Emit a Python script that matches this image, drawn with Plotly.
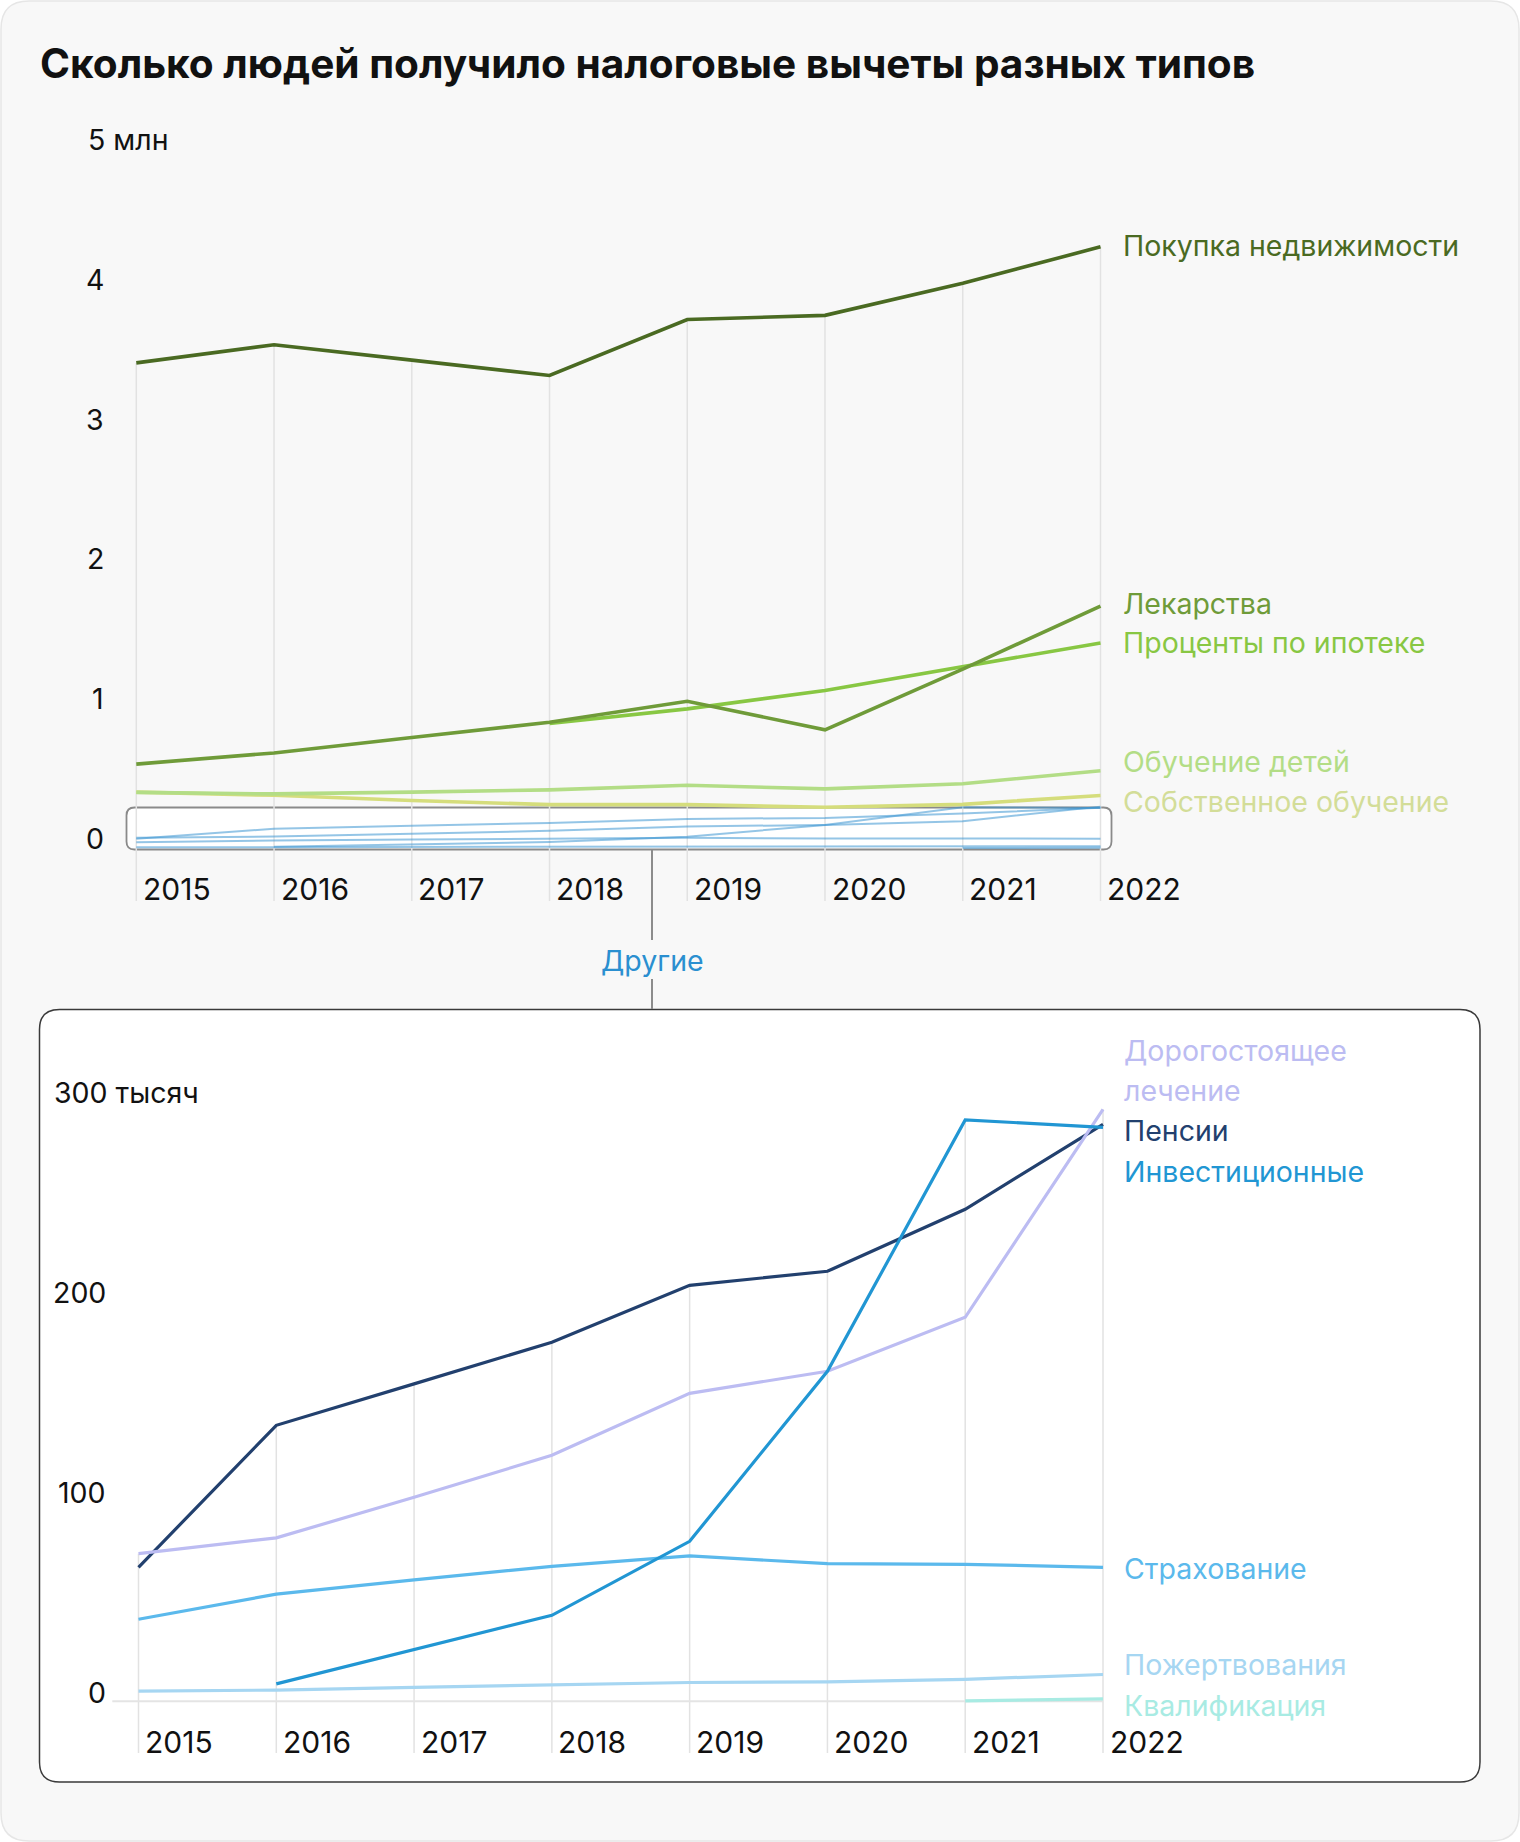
import plotly.graph_objects as go

W, H = 1520, 1842

# ---------------- data ----------------
years = [2015, 2016, 2017, 2018, 2019, 2020, 2021, 2022]
year_labels = ["2015", "2016", "2017", "2018", "2019", "2020", "2021", "2022"]

# Top chart, million people
real_estate = [3.47, 3.60, 3.49, 3.38, 3.78, 3.81, 4.04, 4.30]
medicines = [0.60, 0.68, 0.79, 0.90, 1.05, 0.845, 1.28, 1.73]
mortgage_interest = [None, None, None, 0.89, 0.995, 1.127, 1.295, 1.467]
children_education = [0.398, 0.387, 0.40, 0.416, 0.449, 0.423, 0.46, 0.552]
own_education = [0.40, 0.377, 0.34, 0.31, 0.31, 0.291, 0.312, 0.376]

# Bottom chart ("Другие"), thousand people
expensive_treatment = [73.8, 81.7, 102, 123, 154, 165, 192, 296]
pensions = [67, 138, 158.7, 179.5, 208, 215, 246, 288.5]
investment = [None, 8.7, 26, 43, 80, 165, 290.7, 287]
insurance = [41, 53.6, 60.7, 67.5, 72.7, 68.8, 68.5, 67]
donations = [5.1, 5.6, 7.0, 8.3, 9.4, 9.7, 11.0, 13.4]
qualification = [None, None, None, None, None, None, 0.2, 1.2]

top_ticks = [0, 1, 2, 3, 4, 5]
top_tick_labels = ["0", "1", "2", "3", "4", "5 млн"]
bottom_ticks = [0, 100, 200, 300]
bottom_tick_labels = ["0", "100", "200", "300 тысяч"]

top_names = ["Покупка недвижимости", "Лекарства", "Проценты по ипотеке",
             "Обучение детей", "Собственное обучение"]
bottom_names = ["Дорогостоящее", "лечение", "Пенсии", "Инвестиционные",
                "Страхование", "Пожертвования", "Квалификация"]

# ---------------- styles / geometry ----------------
FONT = "Inter"
C_REAL = "#4a6a22"
C_MED = "#6f9b39"
C_MORT = "#88c743"
C_CHILD = "#b3dd86"
C_OWN = "#d5dd7c"
C_EXP = "#bcbcf2"
C_PENS = "#22406e"
C_INV = "#2196d3"
C_INS = "#5bb9ec"
C_DON = "#a6d6f2"
C_QUAL = "#a8ebe3"
C_OTHER_THIN = "rgba(60,150,210,0.55)"
C_GRID = "#e2e2e2"

TOP_X = (136.3, 1100.5)
TOP_Y0, TOP_UNIT = 848.0, 139.8
TOP_GRID_BOTTOM = 901
BOT_X = (138.5, 1103.0)
BOT_Y0, BOT_UNIT = 1701.3, 2.0
BOT_GRID_BOTTOM = 1753


def xrange_for(px0, px1):
    ppy = (px1 - px0) / (years[-1] - years[0])
    return [years[0] - px0 / ppy, years[0] + (W - px0) / ppy]


def yrange_for(y0, unit):
    return [-(H - y0) / unit, y0 / unit]


def px(x):
    return x / W


def py(y):
    return 1 - y / H


def rrect(x0, y0, x1, y1, r):
    P = lambda x, y: f"{px(x):.6f},{py(y):.6f}"
    return (f"M{P(x0 + r, y0)} L{P(x1 - r, y0)} Q{P(x1, y0)} {P(x1, y0 + r)} "
            f"L{P(x1, y1 - r)} Q{P(x1, y1)} {P(x1 - r, y1)} L{P(x0 + r, y1)} "
            f"Q{P(x0, y1)} {P(x0, y1 - r)} L{P(x0, y0 + r)} Q{P(x0, y0)} {P(x0 + r, y0)} Z")


fig = go.Figure()


def add_line(x, y, color, width, axes):
    fig.add_trace(go.Scatter(x=x, y=y, mode="lines", line=dict(color=color, width=width),
                             xaxis=axes[0], yaxis=axes[1], hoverinfo="skip",
                             showlegend=False, connectgaps=False))


def max_at(series_list, i):
    vals = [s[i] for s in series_list if s[i] is not None]
    return max(vals)


top_series = [real_estate, medicines, mortgage_interest, children_education, own_education]
bottom_series = [expensive_treatment, pensions, investment, insurance, donations, qualification]

# drop gridlines (from highest value of each year down)
top_grid_bottom_val = (TOP_Y0 - TOP_GRID_BOTTOM) / TOP_UNIT
gx, gy = [], []
for i, yr in enumerate(years):
    gx += [yr, yr, None]
    gy += [max_at(top_series, i), top_grid_bottom_val, None]
add_line(gx, gy, C_GRID, 1.5, ("x", "y"))

bot_grid_bottom_val = (BOT_Y0 - BOT_GRID_BOTTOM) / BOT_UNIT
gx, gy = [], []
for i, yr in enumerate(years):
    gx += [yr, yr, None]
    gy += [max_at(bottom_series, i), bot_grid_bottom_val, None]
add_line(gx, gy, C_GRID, 1.5, ("x2", "y2"))
# zero line of bottom chart
add_line([years[0] - 0.19, years[-1]], [0, 0], "#e4e4e4", 2, ("x2", "y2"))

# other (small) series inside the top chart box, in millions
for s in bottom_series:
    add_line(years, [None if v is None else v / 1000 for v in s], C_OTHER_THIN, 2, ("x", "y"))

# top green series
add_line(years, own_education, C_OWN, 3.6, ("x", "y"))
add_line(years, children_education, C_CHILD, 3.6, ("x", "y"))
add_line(years, mortgage_interest, C_MORT, 3.6, ("x", "y"))
add_line(years, medicines, C_MED, 3.6, ("x", "y"))
add_line(years, real_estate, C_REAL, 3.6, ("x", "y"))

# bottom series
add_line(years, qualification, C_QUAL, 3.2, ("x2", "y2"))
add_line(years, donations, C_DON, 3.2, ("x2", "y2"))
add_line(years, insurance, C_INS, 3.2, ("x2", "y2"))
add_line(years, pensions, C_PENS, 3.2, ("x2", "y2"))
add_line(years, expensive_treatment, C_EXP, 3.2, ("x2", "y2"))
add_line(years, investment, C_INV, 3.2, ("x2", "y2"))

shapes = [
    dict(type="path", xref="paper", yref="paper", path=rrect(1, 1, 1519, 1841, 28),
         fillcolor="#f8f8f8", line=dict(color="#e6e6e6", width=1.5), layer="below"),
    dict(type="path", xref="paper", yref="paper", path=rrect(39.5, 1009.5, 1480, 1782, 20),
         fillcolor="#ffffff", line=dict(color="#3a3a3a", width=1.5), layer="below"),
    dict(type="path", xref="paper", yref="paper", path=rrect(126.5, 807.5, 1111.5, 849.5, 8),
         fillcolor="#ffffff", line=dict(color="#8a8a8a", width=1.8), layer="below"),
    dict(type="line", xref="paper", yref="paper", x0=px(652), x1=px(652), y0=py(850), y1=py(940),
         line=dict(color="#8c8c8c", width=2)),
    dict(type="line", xref="paper", yref="paper", x0=px(652), x1=px(652), y0=py(979), y1=py(1009),
         line=dict(color="#8c8c8c", width=2)),
]

ann = []
FS = 28.5
FS_YEAR = 30


def text(x, y, t, color="#111111", size=FS, xanchor="left", weight=None, xref="paper", yref="paper",
         xshift=0, yshift=0):
    f = dict(family=FONT, size=size, color=color)
    if weight:
        f["weight"] = weight
    ann.append(dict(x=x, y=y, xref=xref, yref=yref, text=t, showarrow=False, xanchor=xanchor,
                    yanchor="middle", font=f, xshift=xshift, yshift=yshift))


# title
text(px(38), py(63.5), "Сколько людей получило налоговые вычеты разных типов", size=40.6, weight=700)

# y ticks
for v, lab in zip(top_ticks, top_tick_labels):
    if " " in lab:
        text(px(86), py(TOP_Y0 - v * TOP_UNIT), lab, yshift=9.5)
    else:
        text(px(106), py(TOP_Y0 - v * TOP_UNIT), lab, xanchor="right", yshift=9.5)
for v, lab in zip(bottom_ticks, bottom_tick_labels):
    if " " in lab:
        text(px(52), py(BOT_Y0 - v * BOT_UNIT), lab, yshift=9)
    else:
        text(px(108), py(BOT_Y0 - v * BOT_UNIT), lab, xanchor="right", yshift=9)

# x labels
for yr, lab in zip(years, year_labels):
    text(yr, py(889), lab, xref="x", xshift=4.5, size=FS_YEAR)
    text(yr, py(1741.5), lab, xref="x2", xshift=4.5, size=FS_YEAR)

# series labels
top_label_px = [245.5, 604, 642.7, 761.5, 801.5]
top_label_colors = [C_REAL, C_MED, C_MORT, C_CHILD, "#d3dd98"]
for name, ypx, c in zip(top_names, top_label_px, top_label_colors):
    text(px(1121), py(ypx), name, color=c)

bot_label_px = [1050, 1090, 1130.5, 1171, 1568, 1664, 1705]
bot_label_colors = [C_EXP, C_EXP, C_PENS, C_INV, C_INS, C_DON, C_QUAL]
for name, ypx, c in zip(bottom_names, bot_label_px, bot_label_colors):
    text(px(1122), py(ypx), name, color=c)

text(px(652), py(960), "Другие", color="#2a8fd0", xanchor="center")

ax_common = dict(visible=False, showgrid=False, zeroline=False, fixedrange=True, domain=[0, 1])
fig.update_layout(
    width=W, height=H,
    margin=dict(l=0, r=0, t=0, b=0),
    paper_bgcolor="#ffffff",
    plot_bgcolor="rgba(0,0,0,0)",
    xaxis=dict(range=xrange_for(*TOP_X), anchor="y", **ax_common),
    yaxis=dict(range=yrange_for(TOP_Y0, TOP_UNIT), anchor="x", **ax_common),
    xaxis2=dict(range=xrange_for(*BOT_X), anchor="y2", **ax_common),
    yaxis2=dict(range=yrange_for(BOT_Y0, BOT_UNIT), anchor="x2", **ax_common),
    shapes=shapes,
    annotations=ann,
    font=dict(family=FONT),
)

fig.write_html("out.html", config={"displayModeBar": False},
               post_script="document.body.style.margin='0';document.body.style.overflow='hidden';")
